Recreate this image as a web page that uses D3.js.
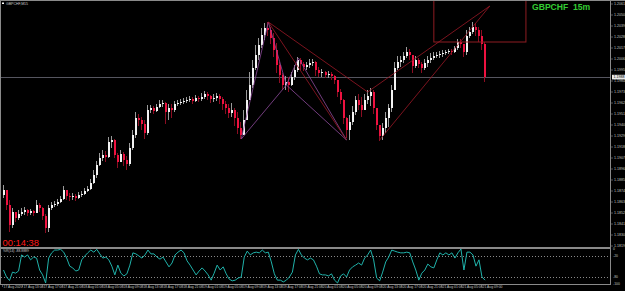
<!DOCTYPE html>
<html>
<head>
<meta charset="utf-8">
<script src="https://cdn.jsdelivr.net/npm/d3@7"></script>
<style>
  body { margin: 0; background: #000; }
  svg { display: block; font-family: "Liberation Sans", Arial, sans-serif; }
</style>
</head>
<body>
<svg id="chart" width="625" height="291"></svg>
<script>
// GBPCHF 15m candles (open = previous close)
const firstOpen = 1.1870;
const closes = [1.1875,1.1860,1.1840,1.1853,1.1847,1.1851,1.1853,1.1855,1.1852,1.1854,
  1.1852,1.1860,1.1857,1.1849,1.1837,1.1857,1.1860,1.1861,1.1863,1.1866,
  1.1875,1.1869,1.1868,1.1869,1.1867,1.1870,1.1871,1.1874,1.1876,1.1882,
  1.1890,1.1900,1.1907,1.1910,1.1908,1.1923,1.1925,1.1910,1.1903,1.1911,
  1.1905,1.1901,1.1917,1.1930,1.1947,1.1945,1.1941,1.1932,1.1955,1.1957,
  1.1954,1.1958,1.1961,1.1962,1.1953,1.1957,1.1955,1.1961,1.1962,1.1963,
  1.1964,1.1965,1.1966,1.1964,1.1967,1.1966,1.1968,1.1971,1.1969,1.1966,
  1.1967,1.1969,1.1966,1.1961,1.1957,1.1952,1.1955,1.1947,1.1937,1.1930,
  1.1945,1.1965,1.1980,1.1997,1.2010,1.2020,1.2030,1.2037,1.2035,1.2027,
  1.2015,1.2000,1.1990,1.1980,1.1983,1.1980,1.1988,1.1995,1.2005,1.2001,
  1.1998,1.2000,1.2002,1.2003,1.1995,1.1992,1.1993,1.1990,1.1991,1.1989,
  1.1985,1.1973,1.1965,1.1947,1.1935,1.1943,1.1953,1.1965,1.1960,1.1955,
  1.1965,1.1969,1.1973,1.1957,1.1940,1.1929,1.1937,1.1947,1.1957,1.1975,
  1.1997,1.2003,1.2005,1.2009,1.2013,1.2010,1.1999,1.2005,1.2001,1.1997,
  1.2002,1.2005,1.2007,1.2009,1.2010,1.2011,1.2012,1.2013,1.2014,1.2013,
  1.2017,1.2023,1.2021,1.2013,1.2029,1.2033,1.2038,1.2035,1.2029,1.2021,
  1.1988];
const highs = [1.1880,1.1870,1.1865,1.1857,1.1853,1.1855,1.1857,1.1858,1.1856,1.1856,
  1.1855,1.1865,1.1862,1.1858,1.1851,1.1860,1.1863,1.1864,1.1866,1.1869,
  1.1879,1.1875,1.1872,1.1872,1.1871,1.1873,1.1874,1.1877,1.1879,1.1886,
  1.1895,1.1904,1.1912,1.1915,1.1914,1.1928,1.1929,1.1926,1.1912,1.1915,
  1.1913,1.1909,1.1922,1.1935,1.1953,1.1951,1.1948,1.1945,1.1960,1.1960,
  1.1959,1.1961,1.1965,1.1965,1.1963,1.1961,1.1961,1.1964,1.1965,1.1966,
  1.1967,1.1968,1.1969,1.1968,1.1970,1.1969,1.1972,1.1974,1.1973,1.1970,
  1.1971,1.1972,1.1971,1.1968,1.1964,1.1961,1.1962,1.1957,1.1953,1.1943,
  1.1955,1.1975,1.1993,1.2005,1.2020,1.2027,1.2037,1.2042,1.2043,1.2038,
  1.2032,1.2022,1.2003,1.1992,1.1989,1.1988,1.1993,1.2000,1.2008,1.2007,
  1.2003,1.2003,1.2006,1.2006,1.2004,1.1998,1.1996,1.1994,1.1994,1.1993,
  1.1990,1.1985,1.1976,1.1966,1.1948,1.1950,1.1959,1.1969,1.1971,1.1968,
  1.1971,1.1975,1.1977,1.1975,1.1953,1.1939,1.1942,1.1953,1.1961,1.1980,
  1.2003,1.2009,1.2009,1.2013,1.2018,1.2016,1.2010,1.2009,1.2007,1.2003,
  1.2006,1.2009,1.2012,1.2013,1.2013,1.2014,1.2015,1.2015,1.2016,1.2016,
  1.2019,1.2026,1.2026,1.2021,1.2035,1.2038,1.2043,1.2042,1.2038,1.2035,
  1.2023];
const lows = [1.1867,1.1855,1.1833,1.1837,1.1843,1.1845,1.1849,1.1850,1.1849,1.1850,
  1.1849,1.1853,1.1853,1.1845,1.1832,1.1833,1.1855,1.1858,1.1859,1.1862,
  1.1865,1.1865,1.1864,1.1865,1.1864,1.1866,1.1868,1.1870,1.1873,1.1875,
  1.1881,1.1887,1.1899,1.1904,1.1903,1.1907,1.1917,1.1907,1.1897,1.1903,
  1.1899,1.1895,1.1899,1.1915,1.1927,1.1939,1.1935,1.1926,1.1930,1.1952,
  1.1951,1.1953,1.1957,1.1958,1.1941,1.1945,1.1947,1.1953,1.1959,1.1960,
  1.1961,1.1962,1.1963,1.1961,1.1963,1.1963,1.1964,1.1966,1.1965,1.1962,
  1.1963,1.1964,1.1961,1.1955,1.1951,1.1947,1.1948,1.1939,1.1931,1.1926,
  1.1935,1.1950,1.1967,1.1977,1.1995,1.2005,1.2017,1.2025,1.2029,1.2021,
  1.2008,1.1992,1.1982,1.1975,1.1975,1.1973,1.1979,1.1985,1.1993,1.1995,
  1.1994,1.1995,1.1997,1.1999,1.1989,1.1988,1.1988,1.1987,1.1987,1.1985,
  1.1981,1.1968,1.1961,1.1941,1.1927,1.1925,1.1940,1.1950,1.1955,1.1948,
  1.1955,1.1961,1.1959,1.1951,1.1935,1.1924,1.1925,1.1932,1.1938,1.1953,
  1.1977,1.1995,1.1998,1.2002,1.2007,1.2005,1.1992,1.1997,1.1997,1.1992,
  1.1995,1.1998,1.2002,1.2005,1.2007,1.2007,1.2008,1.2010,1.2011,1.2010,
  1.2012,1.2015,1.2017,1.2008,1.2010,1.2027,1.2031,1.2029,1.2023,1.2015,
  1.1983];

// Williams %R(14), one value per candle
const wpr = [-60,-80,-90,-66,-69,-63,-17,-23,-17,-31,
  -23,-26,-60,-74,-97,-26,-11,-3,-3,-1,
  -9,-26,-49,-54,-63,-60,-31,-20,-11,-3,
  -9,-1,-14,-26,-23,-31,-49,-74,-46,-69,
  -77,-71,-46,-11,-14,-20,-26,-17,-3,-14,
  -14,-23,-29,-23,-37,-51,-40,-17,-9,-3,
  -11,-34,-46,-60,-74,-63,-54,-63,-74,-89,
  -69,-46,-60,-51,-71,-86,-91,-89,-83,-80,
  -23,-6,-17,-11,-9,-11,-3,-11,-9,-37,
  -71,-89,-89,-94,-89,-80,-66,-17,-1,-17,
  -26,-31,-26,-31,-49,-71,-74,-74,-77,-71,
  -89,-97,-77,-71,-80,-60,-51,-46,-40,-46,
  -26,-17,-3,-31,-83,-91,-66,-37,-23,-3,
  -6,-9,-11,-11,-9,-11,-37,-60,-89,-69,
  -60,-43,-51,-54,-31,-11,-17,-11,-17,-11,
  -26,-11,0,-60,-9,-9,-17,-49,-31,-80,
  -89];
const wprLevels = [-20, -80];
const wprScaleLabels = [0, -20, -80, -100];

const priceTicks = [1.2061,1.2050,1.2039,1.2028,1.2017,1.2006,1.1995,1.1984,1.1973,1.1962,
  1.1951,1.1940,1.1929,1.1918,1.1907,1.1896,1.1885,1.1874,1.1863,1.1852,1.1841,1.1830,1.1819];
const dateLabels = ["17 Aug 2020","17 Aug 13:00","17 Aug 17:00","17 Aug 21:00","18 Aug 01:00",
  "18 Aug 05:00","18 Aug 09:00","18 Aug 13:00","18 Aug 17:00","18 Aug 21:00","19 Aug 01:00",
  "19 Aug 05:00","19 Aug 09:00","19 Aug 13:00","19 Aug 17:00","19 Aug 21:00","20 Aug 01:00",
  "20 Aug 05:00","20 Aug 09:00","20 Aug 13:00","20 Aug 17:00","20 Aug 21:00","21 Aug 01:00",
  "21 Aug 05:00","21 Aug 09:00"];

// harmonic pattern points and drawn objects: [candle index, price]
const pX = [79, 1.1926], pA = [88, 1.2043], pB = [94, 1.1980], pC = [98, 1.2007], pD = [114, 1.1925];
const pE = [121, 1.1973], pF = [161.6, 1.2059], pG = [125, 1.1925];
const patternLegs = [[pX, pA], [pA, pB], [pX, pB], [pB, pC], [pC, pD], [pB, pD]];
const trendLines = [[pA, pD], [pA, pE], [pE, pF], [pG, pF]];
const boxIdx = [143, 173.6], boxPrice = [1.2070, 1.2023];

const svg = d3.select("#chart");
const W = 625, axisX = 610.5, mainBottom = 247;

const x = d3.scaleLinear().domain([0, closes.length - 1]).range([3.5, 485]);
const y = d3.scaleLinear().domain([1.2061, 1.1819]).range([4, 246]);
const yw = d3.scaleLinear().domain([0, -100]).range([249, 284]);
const xd = d3.scalePoint().domain(dateLabels).range([2, 481]);

svg.append("rect").attr("width", W).attr("height", 291).attr("fill", "#000");

const defs = svg.append("defs");
defs.append("clipPath").attr("id", "mainClip")
  .append("rect").attr("x", 1).attr("y", 1).attr("width", axisX - 1).attr("height", mainBottom - 1);
defs.append("clipPath").attr("id", "indClip")
  .append("rect").attr("x", 1).attr("y", 249).attr("width", axisX - 1).attr("height", 35);

const main = svg.append("g").attr("clip-path", "url(#mainClip)");

// current price line
const last = closes[closes.length - 1];
main.append("line")
  .attr("x1", 1).attr("x2", axisX)
  .attr("y1", Math.round(y(last)) + 0.5).attr("y2", Math.round(y(last)) + 0.5)
  .attr("stroke", "#55555f").attr("stroke-width", 1);

// candles
const candles = main.append("g").attr("shape-rendering", "crispEdges");
closes.forEach(function (c, i) {
  let o = i === 0 ? firstOpen : closes[i - 1];
  let bull = c >= o;
  let top = Math.max(highs[i], o, c), bot = Math.min(lows[i], o, c);
  let bx = Math.round(x(i)) - 1;
  candles.append("rect")
    .attr("x", bx).attr("width", 1)
    .attr("y", y(top)).attr("height", Math.max(1, y(bot) - y(top)))
    .attr("fill", bull ? "#9a9a9a" : "#8c0d22");
  let by = y(Math.max(o, c));
  candles.append("rect")
    .attr("x", bx).attr("width", 2)
    .attr("y", by).attr("height", Math.max(1, y(Math.min(o, c)) - by))
    .attr("fill", bull ? "#f2f2f2" : "#ee1240");
});

// rectangle object
main.append("rect")
  .attr("x", x(boxIdx[0])).attr("y", y(boxPrice[0]))
  .attr("width", x(boxIdx[1]) - x(boxIdx[0]))
  .attr("height", y(boxPrice[1]) - y(boxPrice[0]))
  .attr("fill", "none").attr("stroke", "#8e1c22").attr("stroke-width", 1);

function seg(g, list, color) {
  g.selectAll(null).data(list).join("line")
    .attr("x1", d => x(d[0][0])).attr("y1", d => y(d[0][1]))
    .attr("x2", d => x(d[1][0])).attr("y2", d => y(d[1][1]))
    .attr("stroke", color).attr("stroke-width", 0.8);
}
seg(main.append("g"), patternLegs, "#8e4b9c");
seg(main.append("g"), trendLines, "#9a1826");

// texts in main window
svg.append("rect").attr("x", 2).attr("y", 2.5).attr("width", 2).attr("height", 1.5).attr("fill", "#fff");
svg.append("text").attr("x", 6).attr("y", 4.6)
  .attr("font-size", 3.5).attr("fill", "#c8c8c8").text("GBPCHF,M15");
svg.append("text").attr("x", 532).attr("y", 9.6)
  .attr("font-size", 8.6).attr("font-weight", "bold").attr("fill", "#33cc33")
  .attr("xml:space", "preserve").text("GBPCHF  15m");
svg.append("text").attr("x", 2.5).attr("y", 245.6)
  .attr("font-size", 9.4).attr("fill", "#ff1a1a").text("00:14:38");

// indicator window
svg.append("rect").attr("x", 0).attr("y", mainBottom).attr("width", axisX + 0.5).attr("height", 2)
  .attr("fill", "#8a8a8a");
svg.append("line").attr("x1", 0).attr("x2", axisX).attr("y1", 284.5).attr("y2", 284.5)
  .attr("stroke", "#8a8a8a");
svg.selectAll(".lvl").data(wprLevels).join("line").attr("class", "lvl")
  .attr("x1", 1).attr("x2", axisX)
  .attr("y1", d => Math.round(yw(d)) + 0.5).attr("y2", d => Math.round(yw(d)) + 0.5)
  .attr("stroke", "#8a8a8a").attr("stroke-dasharray", "1,2");
svg.append("g").attr("clip-path", "url(#indClip)")
  .append("path").datum(wpr)
  .attr("d", d3.line().x((d, i) => x(i)).y(d => yw(d)))
  .attr("fill", "none").attr("stroke", "#20b2aa").attr("stroke-width", 1);
svg.append("text").attr("x", 3).attr("y", 251.8)
  .attr("font-size", 3.4).attr("fill", "#c8c8c8").text("%R(14) -88.8889");

// right price axis
svg.append("line").attr("x1", axisX).attr("x2", axisX).attr("y1", 0).attr("y2", 285)
  .attr("stroke", "#8a8a8a");
const pax = svg.append("g");
pax.selectAll("line").data(priceTicks).join("line")
  .attr("x1", axisX).attr("x2", axisX + 2.5)
  .attr("y1", d => y(d)).attr("y2", d => y(d)).attr("stroke", "#8a8a8a").attr("stroke-width", 0.6);
pax.selectAll("text").data(priceTicks).join("text")
  .attr("x", 614).attr("y", d => y(d) + 1.2)
  .attr("font-size", 3.6).attr("fill", "#c0c0c0").text(d => d.toFixed(4));
svg.append("rect").attr("x", 612).attr("y", y(last) - 2.2).attr("width", 13).attr("height", 4.6)
  .attr("fill", "#e8e8e8");
svg.append("text").attr("x", 613.5).attr("y", y(last) + 1.2)
  .attr("font-size", 3.6).attr("fill", "#000").text(last.toFixed(4));

const wax = svg.append("g");
wax.selectAll("text").data(wprScaleLabels).join("text")
  .attr("x", 613).attr("y", d => yw(d) + 1.2)
  .attr("font-size", 3.4).attr("fill", "#c0c0c0").text(d => d);

// time axis
const tax = svg.append("g");
tax.selectAll("line").data(dateLabels).join("line")
  .attr("x1", d => xd(d) + 0.5).attr("x2", d => xd(d) + 0.5)
  .attr("y1", 284.5).attr("y2", 287).attr("stroke", "#8a8a8a").attr("stroke-width", 0.6);
tax.selectAll("text").data(dateLabels).join("text")
  .attr("x", d => xd(d) + 1.5).attr("y", 288.3)
  .attr("font-size", 3.4).attr("fill", "#c0c0c0").text(d => d);

// window frame
svg.append("line").attr("x1", 0).attr("x2", W).attr("y1", 0.5).attr("y2", 0.5).attr("stroke", "#8a8a8a");
svg.append("line").attr("x1", 0.5).attr("x2", 0.5).attr("y1", 0).attr("y2", 285).attr("stroke", "#8a8a8a");
</script>
</body>
</html>
